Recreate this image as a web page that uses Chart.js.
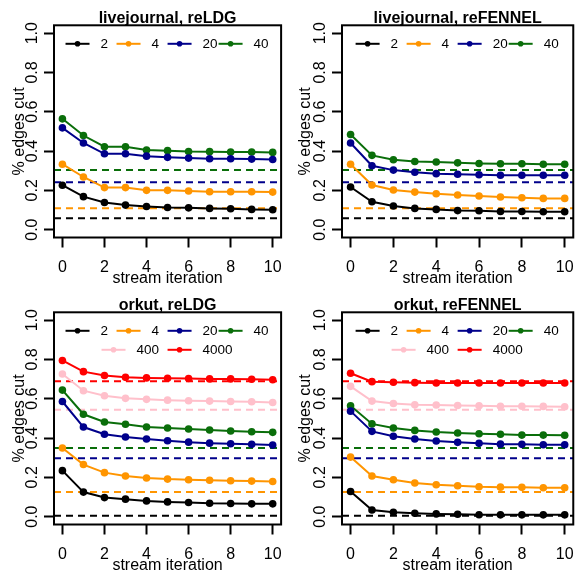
<!DOCTYPE html>
<html lang="en">
<head>
<meta charset="UTF-8" />
<title>% edges cut per stream iteration</title>
<style>
  body { margin: 0; background: #fff; }
  .panel { position: absolute; width: 292px; height: 287px; }
</style>
</head>
<body>
<div class="panel" style="left:0;top:0"><canvas id="c0" width="292" height="287"></canvas></div>
<div class="panel" style="left:292px;top:0"><canvas id="c1" width="292" height="287"></canvas></div>
<div class="panel" style="left:0;top:287px"><canvas id="c2" width="292" height="287"></canvas></div>
<div class="panel" style="left:292px;top:287px"><canvas id="c3" width="292" height="287"></canvas></div>

<script src="https://cdn.jsdelivr.net/npm/chart.js@4.4.0/dist/chart.umd.min.js"></script>
<script>
// data
const ITERATIONS = [0, 1, 2, 3, 4, 5, 6, 7, 8, 9, 10];
const X_TICKS = [0, 2, 4, 6, 8, 10];
const Y_TICKS = [0, 0.2, 0.4, 0.6, 0.8, 1.0];
const PARTS = ["2", "4", "20", "40", "400", "4000"];

// livejournal, reLDG
const LJ_LDG_2 = [0.226, 0.168, 0.138, 0.125, 0.118, 0.113, 0.111, 0.108, 0.106, 0.103, 0.101];
const LJ_LDG_4 = [0.333, 0.268, 0.214, 0.214, 0.200, 0.200, 0.197, 0.193, 0.193, 0.193, 0.191];
const LJ_LDG_20 = [0.518, 0.441, 0.386, 0.386, 0.374, 0.368, 0.364, 0.361, 0.361, 0.359, 0.357];
const LJ_LDG_40 = [0.564, 0.479, 0.422, 0.422, 0.405, 0.402, 0.398, 0.397, 0.395, 0.395, 0.393];

// livejournal, reFENNEL
const LJ_FEN_2 = [0.217, 0.142, 0.120, 0.108, 0.103, 0.097, 0.096, 0.092, 0.092, 0.091, 0.091];
const LJ_FEN_4 = [0.333, 0.227, 0.202, 0.191, 0.183, 0.176, 0.171, 0.166, 0.162, 0.159, 0.159];
const LJ_FEN_20 = [0.441, 0.325, 0.303, 0.292, 0.285, 0.282, 0.279, 0.277, 0.277, 0.277, 0.277];
const LJ_FEN_40 = [0.484, 0.378, 0.356, 0.347, 0.344, 0.340, 0.337, 0.335, 0.335, 0.333, 0.333];

// orkut, reLDG
const OK_LDG_2 = [0.234, 0.125, 0.097, 0.089, 0.080, 0.075, 0.072, 0.068, 0.067, 0.065, 0.065];
const OK_LDG_4 = [0.349, 0.265, 0.224, 0.207, 0.197, 0.191, 0.188, 0.185, 0.183, 0.181, 0.179];
const OK_LDG_20 = [0.586, 0.456, 0.419, 0.405, 0.395, 0.386, 0.379, 0.374, 0.371, 0.368, 0.364];
const OK_LDG_40 = [0.644, 0.521, 0.482, 0.470, 0.456, 0.451, 0.446, 0.441, 0.436, 0.432, 0.429];
const OK_LDG_400 = [0.726, 0.641, 0.615, 0.602, 0.597, 0.593, 0.590, 0.588, 0.586, 0.585, 0.581];
const OK_LDG_4000 = [0.795, 0.738, 0.718, 0.709, 0.706, 0.704, 0.703, 0.701, 0.701, 0.699, 0.697];

// orkut, reFENNEL
const OK_FEN_2 = [0.128, 0.034, 0.022, 0.017, 0.014, 0.012, 0.010, 0.009, 0.009, 0.009, 0.009];
const OK_FEN_4 = [0.303, 0.207, 0.188, 0.171, 0.162, 0.157, 0.152, 0.150, 0.149, 0.147, 0.147];
const OK_FEN_20 = [0.537, 0.434, 0.409, 0.395, 0.385, 0.378, 0.373, 0.369, 0.368, 0.366, 0.366];
const OK_FEN_40 = [0.564, 0.472, 0.451, 0.439, 0.431, 0.426, 0.422, 0.419, 0.415, 0.415, 0.414];
const OK_FEN_400 = [0.663, 0.588, 0.576, 0.569, 0.568, 0.566, 0.564, 0.562, 0.562, 0.561, 0.559];
const OK_FEN_4000 = [0.730, 0.687, 0.684, 0.682, 0.680, 0.680, 0.680, 0.680, 0.680, 0.680, 0.680];

// dashed reference lines (same for both algorithms of a graph)
const LJ_BASE = [0.058, 0.109, 0.241, 0.303];
const OK_BASE = [0.004, 0.125, 0.297, 0.349, 0.544, 0.689];

const COLORS = ["#000000", "#FF9500", "#00008B", "#0A6E0A", "#FFC0CB", "#FF0000"];
const XMIN = -0.4, XMAX = 10.4;
const FONT = "'Liberation Sans', Arial, sans-serif";

Chart.defaults.font.family = FONT;
Chart.defaults.color = "#000";

const panels = [
  { id: "c0", title: "livejournal, reLDG", series: [LJ_LDG_2, LJ_LDG_4, LJ_LDG_20, LJ_LDG_40], base: LJ_BASE, left: 54, right: 7, ytitle: 10.4 },
  { id: "c1", title: "livejournal, reFENNEL", series: [LJ_FEN_2, LJ_FEN_4, LJ_FEN_20, LJ_FEN_40], base: LJ_BASE, left: 50, right: 9, ytitle: 4 },
  { id: "c2", title: "orkut, reLDG", series: [OK_LDG_2, OK_LDG_4, OK_LDG_20, OK_LDG_40, OK_LDG_400, OK_LDG_4000], base: OK_BASE, left: 54, right: 7, ytitle: 10.4 },
  { id: "c3", title: "orkut, reFENNEL", series: [OK_FEN_2, OK_FEN_4, OK_FEN_20, OK_FEN_40, OK_FEN_400, OK_FEN_4000], base: OK_BASE, left: 50, right: 9, ytitle: 4 },
];

// box round the plot region
const boxPlugin = {
  id: "boxPlugin",
  afterDraw(chart) {
    const { ctx, chartArea: a } = chart;
    ctx.save();
    ctx.strokeStyle = "#000";
    ctx.lineWidth = 2;
    ctx.strokeRect(a.left, a.top, a.right - a.left, a.bottom - a.top);
    ctx.restore();
  },
};

// R-style legend inside the box, rows centred
const insideLegend = {
  id: "insideLegend",
  afterDatasetsDraw(chart, args, opts) {
    const { ctx, chartArea } = chart;
    const cx = (chartArea.left + chartArea.right) / 2;
    ctx.save();
    ctx.font = "13.5px " + FONT;
    ctx.textBaseline = "middle";
    ctx.textAlign = "left";
    opts.rows.forEach((row, r) => {
      const y = chartArea.top + 18.5 + r * 19;
      const textW = Math.max(...row.map((i) => ctx.measureText(chart.data.datasets[i].label).width));
      const colW = 36 + textW;
      let x = cx - (row.length * colW) / 2;
      row.forEach((i) => {
        const ds = chart.data.datasets[i];
        ctx.strokeStyle = ds.borderColor;
        ctx.lineWidth = 2;
        ctx.beginPath();
        ctx.moveTo(x, y);
        ctx.lineTo(x + 24, y);
        ctx.stroke();
        ctx.fillStyle = ds.borderColor;
        ctx.beginPath();
        ctx.arc(x + 12, y, 2.8, 0, Math.PI * 2);
        ctx.fill();
        ctx.fillStyle = "#000";
        ctx.fillText(ds.label, x + 35, y);
        x += colW;
      });
    });
    ctx.restore();
  },
};

panels.forEach((p) => {
  const datasets = [];
  p.series.forEach((vals, i) => {
    datasets.push({
      label: PARTS[i],
      data: ITERATIONS.map((it, k) => ({ x: it, y: vals[k] })),
      borderColor: COLORS[i],
      backgroundColor: COLORS[i],
      borderWidth: 2,
      pointRadius: 3.8,
      pointBorderWidth: 0,
      tension: 0,
    });
  });
  p.base.forEach((v, i) => {
    datasets.push({
      label: "",
      data: [{ x: XMIN, y: v }, { x: XMAX, y: v }],
      borderColor: COLORS[i],
      borderWidth: 2,
      borderDash: [7, 5],
      pointRadius: 0,
    });
  });

  const rows = p.series.length > 4 ? [[0, 1, 2, 3], [4, 5]] : [[0, 1, 2, 3]];

  new Chart(document.getElementById(p.id), {
    type: "line",
    data: { datasets },
    plugins: [boxPlugin, insideLegend],
    options: {
      responsive: false,
      animation: false,
      devicePixelRatio: 1,
      layout: { padding: { left: 0, right: p.right, top: 0, bottom: 0 } },
      plugins: {
        legend: { display: false },
        tooltip: { enabled: false },
        insideLegend: { rows },
        title: {
          display: true,
          text: p.title,
          fullSize: false,
          color: "#000",
          font: { size: 16, weight: "bold", lineHeight: 0.8 },
          padding: { top: 12.5, bottom: 0 },
        },
      },
      scales: {
        x: {
          type: "linear",
          min: XMIN,
          max: XMAX,
          afterBuildTicks: (s) => { s.ticks = X_TICKS.map((v) => ({ value: v })); },
          afterFit: (s) => { s.height = 49.5; },
          border: { display: false },
          grid: { drawOnChartArea: false, drawTicks: true, tickLength: 10, tickWidth: 2, tickColor: "#000" },
          ticks: { font: { size: 16 }, padding: 10, maxRotation: 0, callback: (v) => String(v) },
          title: { display: true, text: "stream iteration", font: { size: 16, lineHeight: 1.2 }, padding: { top: 0, bottom: -1 } },
        },
        y: {
          min: -0.04,
          max: 1.04,
          afterBuildTicks: (s) => { s.ticks = Y_TICKS.map((v) => ({ value: v })); },
          afterFit: (s) => { s.width = p.left; },
          border: { display: false },
          grid: { drawOnChartArea: false, drawTicks: true, tickLength: 10, tickWidth: 2, tickColor: "#000" },
          ticks: { font: { size: 16 }, padding: 0, minRotation: 90, maxRotation: 90, crossAlign: "center", callback: (v) => v.toFixed(1) },
          title: { display: true, text: "% edges cut", font: { size: 16, lineHeight: 1.2 }, padding: { top: p.ytitle, bottom: 0 } },
        },
      },
    },
  });
});
</script>
</body>
</html>
